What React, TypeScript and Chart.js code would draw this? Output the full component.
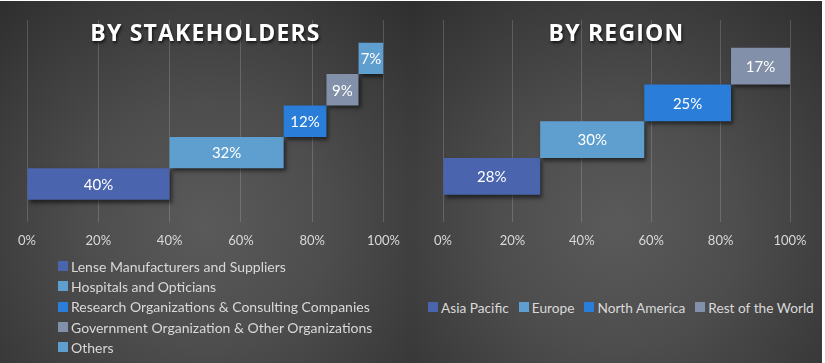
import React, { useEffect, useRef } from "react";
import { Chart, registerables } from "chart.js";

Chart.register(...registerables);

// ---- Data ----
const stakeholderLabels = [
  "Lense Manufacturers and Suppliers",
  "Hospitals and Opticians",
  "Research Organizations & Consulting Companies",
  "Government Organization & Other Organizations",
  "Others",
];
const stakeholderValues = [40, 32, 12, 9, 7];
const stakeholderColors = ["#4A65AE", "#5F9FD0", "#2A7DD8", "#8390A9", "#5F9FD0"];

const regionLabels = ["Asia Pacific", "Europe", "North America", "Rest of the World"];
const regionValues = [28, 30, 25, 17];
const regionColors = ["#4A65AE", "#5F9FD0", "#2A7DD8", "#8390A9"];

const tickValues = [0, 20, 40, 60, 80, 100];

const FONT = "Lato, 'Open Sans', sans-serif";

const shadowPlugin = {
  id: "barShadow",
  beforeDatasetsDraw(chart: any) {
    const ctx = chart.ctx;
    ctx.save();
    ctx.shadowColor = "rgba(0,0,0,0.55)";
    ctx.shadowBlur = 4;
    ctx.shadowOffsetX = 2;
    ctx.shadowOffsetY = 3;
  },
  afterDatasetsDraw(chart: any) {
    const ctx = chart.ctx;
    ctx.restore();
    ctx.save();
    ctx.fillStyle = "#ffffff";
    ctx.font = `15px ${FONT}`;
    ctx.textAlign = "center";
    ctx.textBaseline = "middle";
    chart.data.datasets.forEach((ds: any, i: number) => {
      const meta = chart.getDatasetMeta(i);
      meta.data.forEach((el: any) => {
        const cx = (el.x + el.base) / 2;
        ctx.fillText(ds.label_value, cx, el.y + 1);
      });
    });
    ctx.restore();
  },
};

function buildDatasets(labels: string[], values: number[], colors: string[]) {
  let acc = 0;
  const ds = labels.map((l, i) => {
    const start = acc;
    acc += values[i];
    return {
      label: l,
      label_value: values[i] + "%",
      data: [[start, acc]],
      backgroundColor: colors[i],
      borderWidth: 0,
      barPercentage: 1,
    };
  });
  return ds.reverse();
}

function Panel(props: {
  left: number;
  title: string;
  labels: string[];
  values: number[];
  colors: string[];
  padLeft: number;
  padRight: number;
  catPct: number;
  legendVertical: boolean;
}) {
  const ref = useRef<HTMLCanvasElement>(null);
  useEffect(() => {
    const datasets: any[] = buildDatasets(props.labels, props.values, props.colors).map((d) => ({
      ...d,
      categoryPercentage: props.catPct,
    }));
    const chart = new Chart(ref.current!, {
      type: "bar",
      data: { labels: [""], datasets },
      options: {
        indexAxis: "y",
        animation: false,
        responsive: false,
        maintainAspectRatio: false,
        layout: { padding: { left: props.padLeft, right: props.padRight, top: 19, bottom: 0 } },
        plugins: { legend: { display: false }, tooltip: { enabled: false }, title: { display: false } },
        scales: {
          y: { display: false, stacked: false },
          x: {
            min: 0,
            max: 100,
            afterBuildTicks: (axis: any) => {
              axis.ticks = tickValues.map((v) => ({ value: v }));
            },
            ticks: {
              color: "#d9d9d9",
              font: { family: FONT, size: 13 },
              padding: 11,
              callback: (v: any) => v + "%",
            },
            grid: { color: "rgba(255,255,255,0.17)", drawTicks: false, lineWidth: 1 },
            border: { display: false },
          },
        },
      } as any,
      plugins: [shadowPlugin],
    });
    return () => chart.destroy();
  }, []);

  return (
    <div
      style={{
        position: "absolute",
        left: props.left,
        top: 1,
        width: 411,
        height: 362,
        overflow: "hidden",
        background:
          "radial-gradient(ellipse 75% 85% at 50% 62%, #5a5a5a 0%, #4d4d4d 40%, #3b3b3b 75%, #2e2e2e 100%)",
      }}
    >
      <canvas ref={ref} width={411} height={259} style={{ position: "absolute", left: 0, top: 0 }} />
      <div
        style={{
          position: "absolute",
          left: 0,
          width: 411,
          top: 17,
          textAlign: "center",
          color: "#ffffff",
          fontFamily: "'Open Sans', sans-serif",
          fontWeight: 700,
          fontSize: 23,
          letterSpacing: 1.2,
          lineHeight: "28px",
          textShadow: "1px 2px 3px rgba(0,0,0,0.7)",
        }}
      >
        {props.title}
      </div>
      {props.legendVertical ? (
        <div style={{ position: "absolute", left: 58, top: 255 }}>
          {props.labels.map((l, i) => (
            <div
              key={l}
              style={{
                display: "flex",
                alignItems: "center",
                height: 20.3,
                color: "#d9d9d9",
                fontFamily: FONT,
                fontSize: 14,
                whiteSpace: "nowrap",
              }}
            >
              <span style={{ width: 10, height: 10, background: props.colors[i], marginRight: 3, flex: "none" }} />
              {l}
            </div>
          ))}
        </div>
      ) : (
        <div
          style={{
            position: "absolute",
            left: 17,
            top: 296,
            display: "flex",
            alignItems: "center",
            height: 20,
            gap: 10,
            color: "#d9d9d9",
            fontFamily: FONT,
            fontSize: 13.7,
            whiteSpace: "nowrap",
          }}
        >
          {props.labels.map((l, i) => (
            <div key={l} style={{ display: "flex", alignItems: "center" }}>
              <span style={{ width: 10, height: 10, background: props.colors[i], marginRight: 3 }} />
              {l}
            </div>
          ))}
        </div>
      )}
    </div>
  );
}

export default function App() {
  return (
    <div style={{ position: "fixed", left: 0, top: 0, width: 825, height: 363, background: "#ffffff", overflow: "hidden" }}>
      <Panel
        left={0}
        title="BY STAKEHOLDERS"
        labels={stakeholderLabels}
        values={stakeholderValues}
        colors={stakeholderColors}
        padLeft={27}
        padRight={27}
        catPct={0.776}
        legendVertical={true}
      />
      <Panel
        left={411}
        title="BY REGION"
        labels={regionLabels}
        values={regionValues}
        colors={regionColors}
        padLeft={32}
        padRight={32}
        catPct={0.726}
        legendVertical={false}
      />
    </div>
  );
}
